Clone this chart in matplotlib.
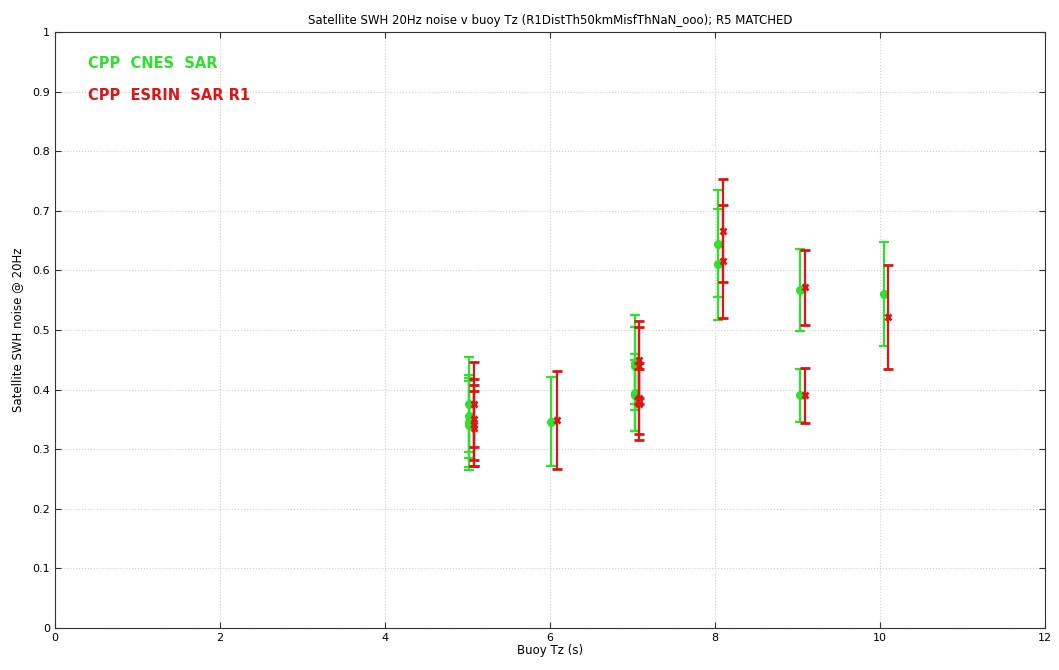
import matplotlib
matplotlib.use("Agg")
import matplotlib.pyplot as plt

# CPP CNES SAR: buoy Tz (s), 20Hz SWH noise (m), error half-width
cnes_tz = [5.02, 5.02, 5.02, 5.02, 6.01, 7.03, 7.03, 7.03, 7.03, 8.03, 8.03, 9.03, 9.03, 10.05]
cnes_noise = [0.375, 0.355, 0.345, 0.340, 0.346, 0.445, 0.440, 0.395, 0.390, 0.645, 0.610, 0.567, 0.390, 0.560]
cnes_err = [0.080, 0.070, 0.075, 0.075, 0.075, 0.080, 0.065, 0.065, 0.060, 0.090, 0.093, 0.069, 0.044, 0.087]

# CPP ESRIN SAR R1
esrin_tz = [5.08, 5.08, 5.08, 5.08, 6.08, 7.08, 7.08, 7.08, 7.08, 8.09, 8.09, 9.09, 9.09, 10.09]
esrin_noise = [0.375, 0.350, 0.340, 0.335, 0.349, 0.450, 0.440, 0.385, 0.375, 0.667, 0.615, 0.572, 0.390, 0.522]
esrin_err = [0.072, 0.068, 0.068, 0.063, 0.082, 0.065, 0.065, 0.060, 0.060, 0.087, 0.095, 0.063, 0.046, 0.087]

green = "#2fe02f"
red = "#dc1515"

fig = plt.figure(figsize=(10.59, 6.70), dpi=100)
ax = fig.add_axes([0.052, 0.063, 0.935, 0.889])

ax.errorbar(cnes_tz, cnes_noise, yerr=cnes_err, fmt="o", color=green,
            ecolor=green, elinewidth=1.6, capsize=3.6, capthick=1.6,
            markersize=5.5, zorder=3)
ax.errorbar(esrin_tz, esrin_noise, yerr=esrin_err, fmt="x", color=red,
            ecolor=red, elinewidth=1.6, capsize=3.6, capthick=1.6,
            markersize=4, markeredgewidth=2, zorder=4)

ax.set_xlim(0, 12)
ax.set_ylim(0, 1)
ax.set_xticks(range(0, 13, 2))
ax.set_yticks([i / 10 for i in range(11)])
ax.set_yticklabels(["0"] + [f"{i/10:.1f}" for i in range(1, 10)] + ["1"])
ax.grid(True, color="#cfcfcf", linestyle=":", linewidth=0.8)
ax.set_axisbelow(True)
ax.tick_params(labelsize=8, direction="in", length=4, color="#333333",
               top=True, right=True)
for s in ax.spines.values():
    s.set_color("#333333")
    s.set_linewidth(0.8)

ax.set_xlabel("Buoy Tz (s)", fontsize=8.5, labelpad=1)
ax.set_ylabel("Satellite SWH noise @ 20Hz", fontsize=8.5, labelpad=6)
ax.set_title("Satellite SWH 20Hz noise v buoy Tz (R1DistTh50kmMisfThNaN_ooo); R5 MATCHED",
             fontsize=8.5, pad=6)

ax.text(0.4, 0.948, "CPP  CNES  SAR", color=green, fontsize=10.5, fontweight="semibold",
        va="center", ha="left")
ax.text(0.4, 0.894, "CPP  ESRIN  SAR R1", color=red, fontsize=10.5, fontweight="semibold",
        va="center", ha="left")

fig.savefig("out.png", dpi=100)
